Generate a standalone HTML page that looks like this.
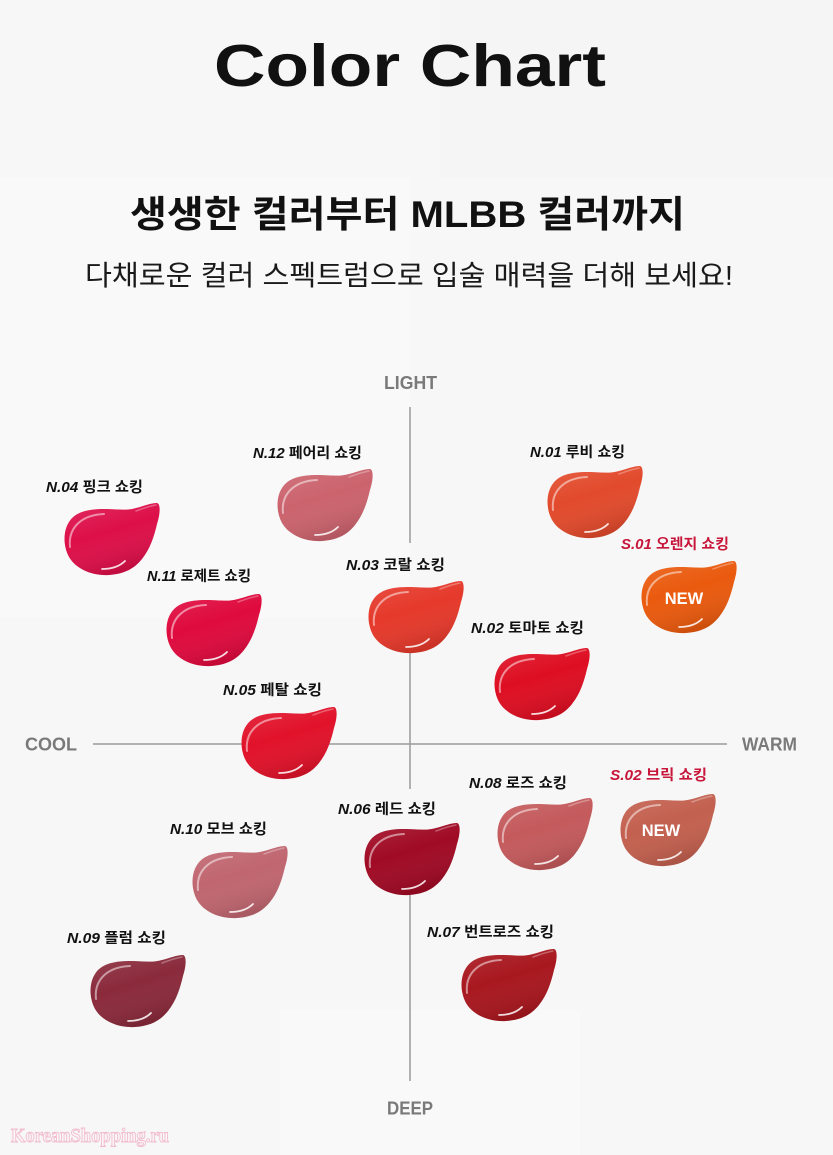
<!DOCTYPE html>
<html><head><meta charset="utf-8"><style>
html,body{margin:0;padding:0;background:#f7f7f7;}
svg{display:block;}
</style></head><body>
<svg width="833" height="1155" viewBox="0 0 833 1155" xmlns="http://www.w3.org/2000/svg">
<defs>
<path id="sw" d="M 93 0 C 97 1, 96 12, 93 21 C 90 34, 86 46, 78 56 C 70 66, 60 71, 45 72 C 28 73, 12 66, 5 54 C -1 43, -1 28, 5 19 C 11 9, 24 6, 40 6 C 55 6, 62 8, 72 5 C 80 3, 87 0, 93 0 Z"/>
<linearGradient id="shade" x1="0" y1="0" x2="0.4" y2="1">
<stop offset="0" stop-color="#fff" stop-opacity="0.12"/>
<stop offset="0.5" stop-color="#fff" stop-opacity="0"/>
<stop offset="1" stop-color="#000" stop-opacity="0.12"/>
</linearGradient>
<g id="hl" fill="none" stroke="#fff" stroke-linecap="round">
<path d="M 6 44 C 4 26, 16 12, 40 11" stroke-opacity="0.5" stroke-width="2"/>
<path d="M 38 66 C 48 66, 56 63, 61 58" stroke-opacity="0.85" stroke-width="1.8"/>
<path d="M 72 8 C 80 5, 86 3, 92 2" stroke-opacity="0.3" stroke-width="1.5"/>
</g>
</defs>
<rect width="833" height="1155" fill="#f7f7f7"/>
<rect x="0" y="178" width="410" height="440" fill="#f9f9f9"/>
<rect x="440" y="0" width="393" height="178" fill="#f5f5f5"/>
<rect x="280" y="1010" width="300" height="145" fill="#f9f9f9"/>

<!-- Title -->
<text x="214" y="86" textLength="392" lengthAdjust="spacingAndGlyphs" font-family="Liberation Sans, sans-serif" font-weight="bold" font-size="59" fill="#111">Color Chart</text>
<text x="130" y="227" textLength="555" lengthAdjust="spacingAndGlyphs" font-family="Liberation Sans, Noto Sans CJK KR, sans-serif" font-weight="bold" font-size="37" fill="#111">생생한 컬러부터 MLBB 컬러까지</text>
<text x="85" y="285" textLength="648" lengthAdjust="spacingAndGlyphs" font-family="Liberation Sans, Noto Sans CJK KR, sans-serif" font-size="28" fill="#1a1a1a">다채로운 컬러 스펙트럼으로 입술 매력을 더해 보세요!</text>

<!-- Axes -->
<g stroke="#9a9a9a" stroke-width="1.5">
<line x1="93" y1="744" x2="727" y2="744"/>
<line x1="410" y1="407" x2="410" y2="543"/>
<line x1="410" y1="650" x2="410" y2="789"/>
<line x1="410" y1="895" x2="410" y2="1081"/>
</g>
<g font-family="Liberation Sans, sans-serif" font-weight="bold" font-size="18" fill="#7a7a7a">
<text x="384" y="389" textLength="53" lengthAdjust="spacingAndGlyphs">LIGHT</text>
<text x="25" y="750.5" textLength="52" lengthAdjust="spacingAndGlyphs">COOL</text>
<text x="742" y="750.5" textLength="55" lengthAdjust="spacingAndGlyphs">WARM</text>
<text x="387" y="1114.5" textLength="46" lengthAdjust="spacingAndGlyphs">DEEP</text>
</g>

<!-- Swatches -->
<g>
<g transform="translate(64,503)"><use href="#sw" fill="#dd0f49"/><use href="#sw" fill="url(#shade)"/><use href="#hl"/></g>
<g transform="translate(277,469)"><use href="#sw" fill="#cb636d"/><use href="#sw" fill="url(#shade)"/><use href="#hl"/></g>
<g transform="translate(547,466)"><use href="#sw" fill="#e24a2c"/><use href="#sw" fill="url(#shade)"/><use href="#hl"/></g>
<g transform="translate(641,561)"><use href="#sw" fill="#ea5a0e"/><use href="#sw" fill="url(#shade)"/><use href="#hl"/></g>
<g transform="translate(166,594)"><use href="#sw" fill="#df0a3e"/><use href="#sw" fill="url(#shade)"/><use href="#hl"/></g>
<g transform="translate(368,581)"><use href="#sw" fill="#e5392b"/><use href="#sw" fill="url(#shade)"/><use href="#hl"/></g>
<g transform="translate(494,648)"><use href="#sw" fill="#de0e22"/><use href="#sw" fill="url(#shade)"/><use href="#hl"/></g>
<g transform="translate(241,707)"><use href="#sw" fill="#e1122a"/><use href="#sw" fill="url(#shade)"/><use href="#hl"/></g>
<g transform="translate(497,798)"><use href="#sw" fill="#c45a5c"/><use href="#sw" fill="url(#shade)"/><use href="#hl"/></g>
<g transform="translate(620,794)"><use href="#sw" fill="#c3604f"/><use href="#sw" fill="url(#shade)"/><use href="#hl"/></g>
<g transform="translate(192,846)"><use href="#sw" fill="#c06670"/><use href="#sw" fill="url(#shade)"/><use href="#hl"/></g>
<g transform="translate(364,823)"><use href="#sw" fill="#a00a24"/><use href="#sw" fill="url(#shade)"/><use href="#hl"/></g>
<g transform="translate(90,955)"><use href="#sw" fill="#8a2a3b"/><use href="#sw" fill="url(#shade)"/><use href="#hl"/></g>
<g transform="translate(461,949)"><use href="#sw" fill="#a8171e"/><use href="#sw" fill="url(#shade)"/><use href="#hl"/></g>
</g>

<!-- NEW badges -->
<g font-family="Liberation Sans, sans-serif" font-weight="bold" font-size="16.5" fill="#fff" text-anchor="middle">
<text x="684" y="604">NEW</text>
<text x="661" y="836">NEW</text>
</g>

<!-- Labels -->
<g font-family="Liberation Sans, Noto Sans CJK KR, sans-serif" font-weight="bold" font-size="14.5" fill="#111">
<text x="46" y="492" textLength="97" lengthAdjust="spacingAndGlyphs"><tspan font-style="italic">N.04</tspan> 핑크 쇼킹</text>
<text x="253" y="458" textLength="109" lengthAdjust="spacingAndGlyphs"><tspan font-style="italic">N.12</tspan> 페어리 쇼킹</text>
<text x="530" y="457" textLength="95" lengthAdjust="spacingAndGlyphs"><tspan font-style="italic">N.01</tspan> 루비 쇼킹</text>
<text x="621" y="549" textLength="108" lengthAdjust="spacingAndGlyphs" fill="#c8163a"><tspan font-style="italic">S.01</tspan> 오렌지 쇼킹</text>
<text x="147" y="581" textLength="104" lengthAdjust="spacingAndGlyphs"><tspan font-style="italic">N.11</tspan> 로제트 쇼킹</text>
<text x="346" y="570" textLength="99" lengthAdjust="spacingAndGlyphs"><tspan font-style="italic">N.03</tspan> 코랄 쇼킹</text>
<text x="471" y="633" textLength="113" lengthAdjust="spacingAndGlyphs"><tspan font-style="italic">N.02</tspan> 토마토 쇼킹</text>
<text x="223" y="695" textLength="99" lengthAdjust="spacingAndGlyphs"><tspan font-style="italic">N.05</tspan> 페탈 쇼킹</text>
<text x="469" y="788" textLength="98" lengthAdjust="spacingAndGlyphs"><tspan font-style="italic">N.08</tspan> 로즈 쇼킹</text>
<text x="610" y="780" textLength="97" lengthAdjust="spacingAndGlyphs" fill="#c8163a"><tspan font-style="italic">S.02</tspan> 브릭 쇼킹</text>
<text x="338" y="814" textLength="98" lengthAdjust="spacingAndGlyphs"><tspan font-style="italic">N.06</tspan> 레드 쇼킹</text>
<text x="170" y="834" textLength="97" lengthAdjust="spacingAndGlyphs"><tspan font-style="italic">N.10</tspan> 모브 쇼킹</text>
<text x="67" y="943" textLength="99" lengthAdjust="spacingAndGlyphs"><tspan font-style="italic">N.09</tspan> 플럼 쇼킹</text>
<text x="427" y="937" textLength="127" lengthAdjust="spacingAndGlyphs"><tspan font-style="italic">N.07</tspan> 번트로즈 쇼킹</text>
</g>

<!-- Watermark -->
<text x="11" y="1142" textLength="158" lengthAdjust="spacingAndGlyphs" font-family="Liberation Serif, serif" font-weight="bold" font-size="20" fill="#fbf3f6" stroke="#f1bccd" stroke-width="0.9">KoreanShopping.ru</text>
</svg>
</body></html>
